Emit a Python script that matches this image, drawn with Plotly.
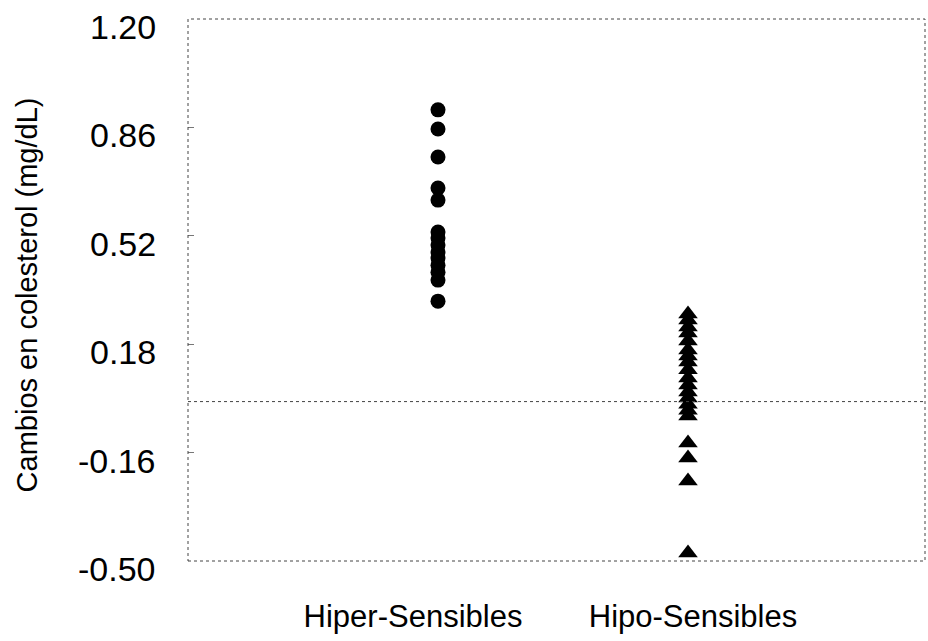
import plotly.graph_objects as go

# Data
categories = ["Hiper-Sensibles", "Hipo-Sensibles"]
group_x = [1, 2]
label_pos = [0.90, 2.02]
hiper_values = [0.915, 0.855, 0.767, 0.670, 0.632, 0.532, 0.513, 0.491, 0.469,
                0.450, 0.428, 0.406, 0.381, 0.315]
hipo_values = [0.275, 0.256, 0.234, 0.215, 0.190, 0.162, 0.143, 0.124, 0.100, 0.074,
               0.052, 0.030, 0.011, -0.008, -0.027, -0.045, -0.130, -0.177, -0.249,
               -0.475]
y_ticks = [1.20, 0.86, 0.52, 0.18, -0.16, -0.50]
y_tick_text = ["1.20", "0.86", "0.52", "0.18", "-0.16", "-0.50"]
y_title = "Cambios en colesterol (mg/dL)"

FONT = "Liberation Sans, Arial, sans-serif"
LINE = "#444"

fig = go.Figure()
fig.add_trace(go.Scatter(
    x=[group_x[0]] * len(hiper_values), y=hiper_values, mode="markers",
    marker=dict(symbol="circle", size=15, color="black"), showlegend=False))
fig.add_trace(go.Scatter(
    x=[group_x[1]] * len(hipo_values), y=hipo_values, mode="markers",
    marker=dict(symbol="triangle-up", size=17, color="black"), showlegend=False))

annotations = [dict(text=t, xref="paper", yref="y", x=0, y=v, xanchor="right",
                    yanchor="middle", xshift=-30, yshift=-8, showarrow=False,
                    font=dict(size=34, family=FONT, color="black"))
               for v, t in zip(y_ticks, y_tick_text)]
annotations.append(dict(text=y_title, textangle=-90, xref="paper", yref="paper",
                        x=0, y=0.49, xshift=-161, xanchor="center", yanchor="middle",
                        showarrow=False, font=dict(size=29, family=FONT, color="black")))

shapes = [
    dict(type="rect", xref="paper", yref="paper", x0=0, x1=1, y0=0, y1=1,
         line=dict(color=LINE, width=1, dash="dot")),
    dict(type="line", xref="paper", yref="y", x0=0, x1=1, y0=0, y1=0,
         line=dict(color=LINE, width=1, dash="dot")),
]

fig.update_layout(
    width=928, height=641,
    margin=dict(l=188, r=3, t=19, b=80),
    paper_bgcolor="white", plot_bgcolor="white",
    font=dict(family=FONT, color="black"),
    xaxis=dict(range=[0, 2.948], tickvals=label_pos, ticktext=categories,
               showgrid=False, zeroline=False, showline=False, ticks="",
               tickfont=dict(size=31, family=FONT, color="black"),
               ticklabelstandoff=34),
    yaxis=dict(range=[-0.50, 1.20], tickvals=y_ticks, showticklabels=False,
               showgrid=False, zeroline=False, showline=False,
               ticks="inside", ticklen=6, tickcolor="#777"),
    annotations=annotations,
    shapes=shapes,
)

fig.write_html("out.html")
